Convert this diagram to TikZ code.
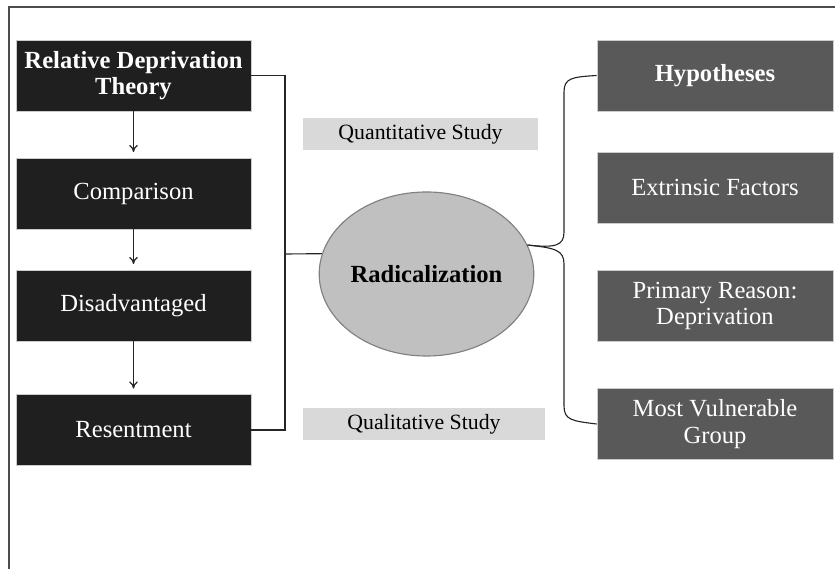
\documentclass[tikz,border=0pt]{standalone}
\usepackage{fontspec}
\setmainfont{Liberation Serif}
\usepackage{tikz}
\usetikzlibrary{
  shapes.geometric, arrows.meta, positioning
}
\definecolor{boxblack}{HTML}{1F1F1F}
\definecolor{boxgrey}{HTML}{595959}
\definecolor{studygrey}{HTML}{D9D9D9}
\definecolor{ovalgrey}{HTML}{C0C0C0}

\begin{document}
\begin{tikzpicture}[
  x=0.025cm, y=-0.025cm,
  darkbox/.style={rectangle, fill=boxblack, draw=black!20, line width=0.4pt,
                  text=white, minimum width=5.875cm, minimum height=1.775cm,
                  align=center, font=\fontsize{17.5}{19}\selectfont},
  greybox/.style={darkbox, fill=boxgrey, minimum width=5.9cm},
  studybox/.style={rectangle, fill=studygrey, minimum height=0.78cm,
                   font=\fontsize{15.5}{17}\selectfont},
  link/.style={line width=0.8pt, black!85},
  flow/.style={link, -{To[length=5pt, width=6pt]}, shorten >=4pt}
]
\useasboundingbox (0,0) rectangle (835,569);

% outer frame
\draw[line width=1pt, black!70] (9,569) -- (9,7) -- (835,7);

% left column
\node[darkbox, font=\bfseries\fontsize{17.5}{19}\selectfont] (rdt) at (133.5, 75.5)
     {Relative Deprivation\\Theory};
\node[darkbox] (comp)   at (133.5, 193.5) {Comparison};
\node[darkbox] (disadv) at (133.5, 305.5) {Disadvantaged};
\node[darkbox] (resent) at (133.5, 430)   {Resentment};

\draw[flow] (rdt.south)    -- (comp.north);
\draw[flow] (comp.south)   -- (disadv.north);
\draw[flow] (disadv.south) -- (resent.north);

% centre
\node[ellipse, fill=ovalgrey, draw=black!50, line width=0.8pt, inner sep=0pt,
      minimum width=4.925cm, minimum height=4.1cm,
      font=\bfseries\fontsize{17.5}{19}\selectfont] (radical) at (426.5, 274)
     {Radicalization};
\node[studybox, minimum width=5.875cm] (quant) at (420.5, 134) {Quantitative Study};
\node[studybox, minimum width=6.05cm]  (qual)  at (424, 424)   {Qualitative Study};

% right column
\node[greybox, font=\bfseries\fontsize{17.5}{19}\selectfont] (hyp) at (715, 75.5)
     {Hypotheses};
\node[greybox] (extr)  at (715, 187.5) {Extrinsic Factors};
\node[greybox] (prim)  at (715, 306)   {Primary Reason:\\Deprivation};
\node[greybox] (vuln)  at (715, 424)   {Most Vulnerable\\Group};

% left bracket
\coordinate (brk) at (285, 254);
\draw[link] (rdt.east) -| (brk) |- (resent.east);
\draw[link] (brk) -- (radical.169);

% right brace
\draw[link] (radical.16) .. controls (555,248) and (564,246) .. (564,232)
  -- (564,92) .. controls (564,78) and (572,77) .. (hyp.west);
\draw[link] (radical.16) .. controls (555,248) and (564,250) .. (564,264)
  -- (564,406) .. controls (564,420) and (572,421) .. (vuln.west);
\end{tikzpicture}
\end{document}
